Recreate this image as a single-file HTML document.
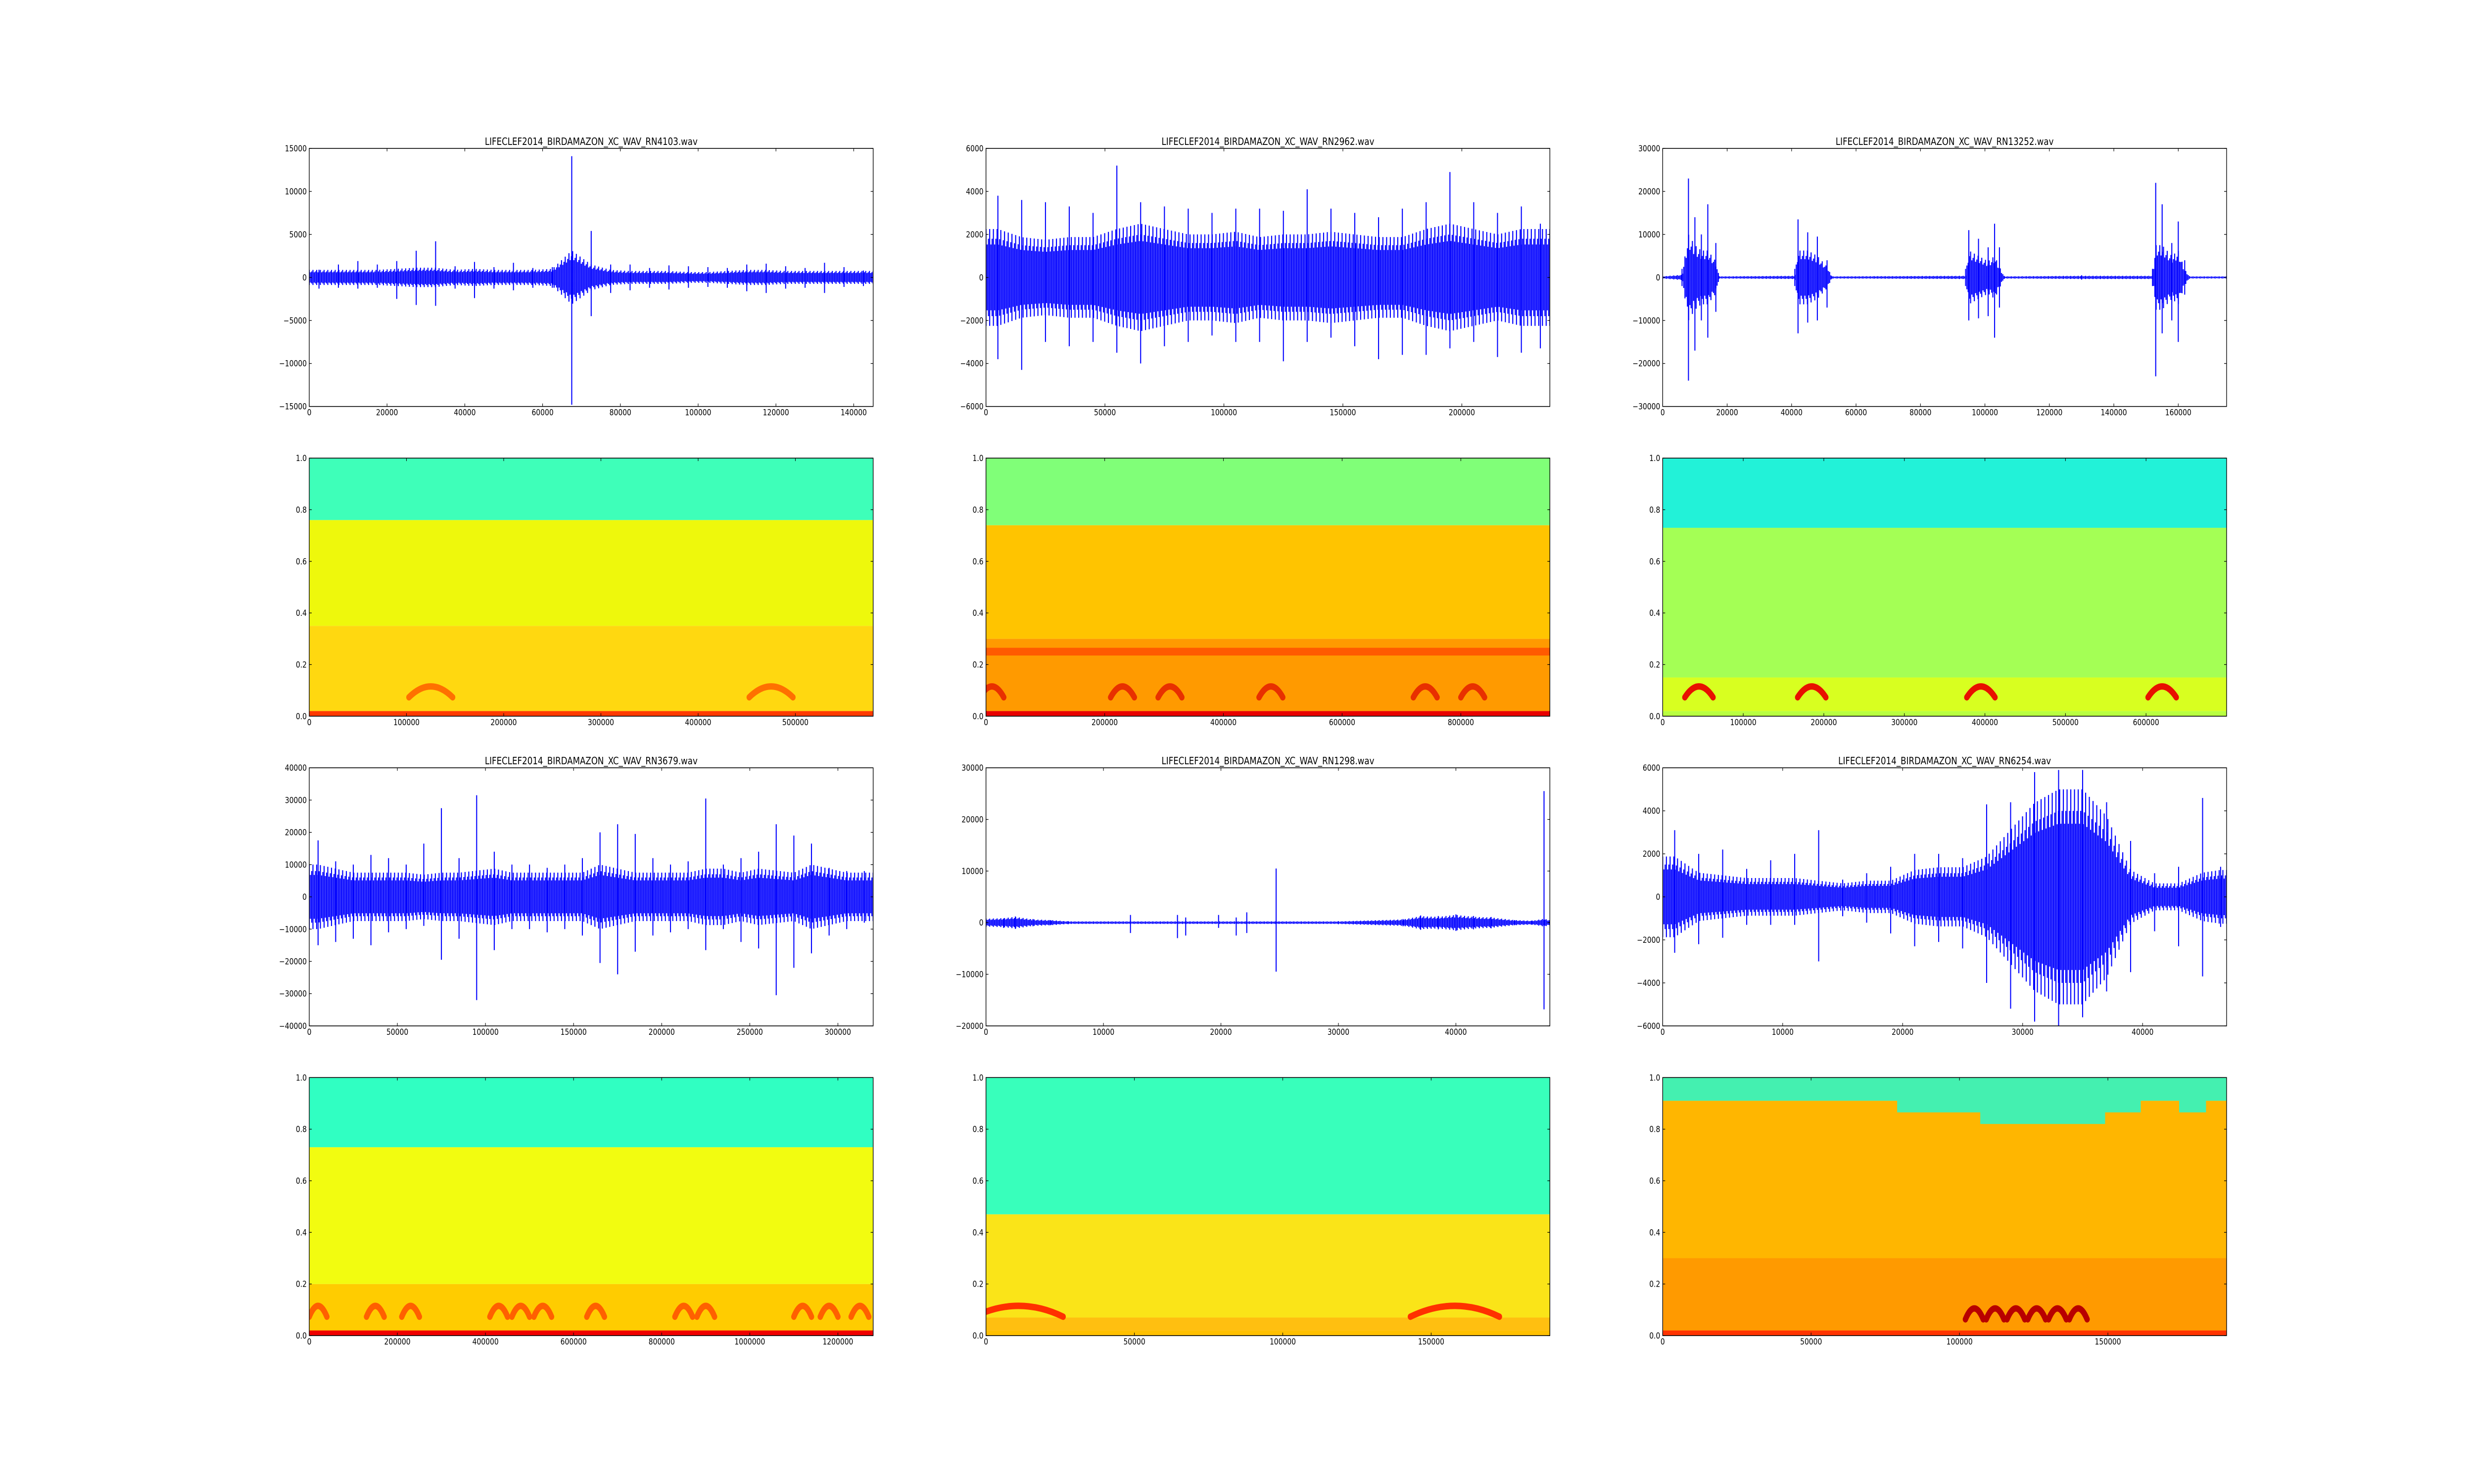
<!DOCTYPE html>
<html><head><meta charset="utf-8">
<style>
html,body{margin:0;padding:0;background:#fff;overflow:hidden;width:100%;height:100%;}
#fig{position:fixed;left:0;top:0;width:100vw;height:100vh;display:block;}
svg text{font-family:"DejaVu Sans","Liberation Sans",sans-serif;font-size:16.7px;fill:#000;}
svg text.title{font-size:20px;}
</style></head>
<body>
<svg id="fig" xmlns="http://www.w3.org/2000/svg" viewBox="0 0 6000 3000" preserveAspectRatio="none">
<rect width="6000" height="3000" fill="#fff"/>
</svg>
<script>
// ---------- Waveform data ----------
const w1Title = "LIFECLEF2014_BIRDAMAZON_XC_WAV_RN4103.wav";
const w1X = [2500,7500,12500,17500,22500,27500,32500,37500,42500,47500,52500,57500,62500,67500,72500,77500,82500,87500,92500,97500,102500,107500,112500,117500,122500,127500,132500,137500,142500];
const w1Hi = [900,1500,1900,1500,1900,3100,4200,1300,1800,1200,1700,1100,1200,14100,5400,1500,1500,1100,1400,1300,1200,1100,1500,1600,1300,1100,1700,1200,800];
const w1Lo = [-1300,-1200,-1300,-1200,-2500,-3200,-3300,-1300,-2400,-1300,-1500,-1200,-1200,-14800,-4500,-1800,-1500,-1200,-1400,-1200,-1100,-1200,-1600,-1800,-1300,-1200,-1800,-1100,-1000];
const w1Core = [700,700,700,700,800,900,900,700,800,700,700,700,800,2500,1200,700,600,600,600,500,500,600,700,700,600,600,600,600,600];
const w1XTicks = [0,20000,40000,60000,80000,100000,120000,140000];
const w1YTicks = [-15000,-10000,-5000,0,5000,10000,15000];

const w2Title = "LIFECLEF2014_BIRDAMAZON_XC_WAV_RN2962.wav";
const w2X = [5000,15000,25000,35000,45000,55000,65000,75000,85000,95000,105000,115000,125000,135000,145000,155000,165000,175000,185000,195000,205000,215000,225000,233000];
const w2Hi = [3800,3600,3500,3300,3000,5200,3500,3300,3200,3000,3200,3200,3100,4100,3200,3000,2800,3200,3500,4900,3500,3000,3300,2500];
const w2Lo = [-3800,-4300,-3000,-3200,-3000,-3500,-4000,-3200,-3000,-2700,-3000,-3000,-3900,-3000,-2800,-3200,-3800,-3600,-3600,-3300,-3000,-3700,-3500,-3300];
const w2Core = [1800,1500,1400,1500,1500,1800,2000,1800,1600,1600,1700,1500,1600,1600,1700,1600,1500,1500,1800,2000,1800,1600,1800,1800];
const w2XTicks = [0,50000,100000,150000,200000];
const w2YTicks = [-6000,-4000,-2000,0,2000,4000,6000];

const w3Title = "LIFECLEF2014_BIRDAMAZON_XC_WAV_RN13252.wav";
const w3X = [0,6000,8000,10000,12000,14000,16500,17500,41000,42000,45000,48000,51000,52500,94000,95000,98000,101000,103000,104500,106000,130000,152000,153000,155000,158000,160000,162000,163500,175000];
const w3Hi = [300,2000,23000,14000,10000,17000,8000,300,2000,13500,10500,9500,4000,300,2000,11000,9000,7000,12500,7000,300,500,2000,22000,17000,8000,13000,4000,300,300];
const w3Lo = [-300,-2000,-24000,-17000,-10000,-14000,-8000,-300,-2000,-13000,-10500,-10000,-7000,-300,-2000,-10000,-9500,-9000,-14000,-7000,-300,-500,-2000,-23000,-13000,-10000,-15000,-4000,-300,-300];
const w3Core = [200,500,8000,6000,5000,5000,3000,200,300,5000,5000,4000,2000,200,300,5000,4000,3000,4000,2000,200,300,300,6000,6000,4000,5000,1500,200,200];
const w3XTicks = [0,20000,40000,60000,80000,100000,120000,140000,160000];
const w3YTicks = [-30000,-20000,-10000,0,10000,20000,30000];

const w4Title = "LIFECLEF2014_BIRDAMAZON_XC_WAV_RN3679.wav";
const w4X = [5000,15000,25000,35000,45000,55000,65000,75000,85000,95000,105000,115000,125000,135000,145000,155000,165000,175000,185000,195000,205000,215000,225000,235000,245000,255000,265000,275000,285000,295000,305000,315000];
const w4Hi = [17500,11000,10000,13000,12000,10000,16500,27500,12000,31500,14000,10000,10000,9000,10000,12000,20000,22500,19500,12000,10000,11000,30500,10000,12000,14000,22500,19000,16500,9000,8000,8000];
const w4Lo = [-15000,-14000,-13000,-15000,-11000,-10000,-9000,-19500,-13000,-32000,-16500,-10000,-10000,-11000,-10000,-12000,-20500,-24000,-17000,-12000,-11000,-10000,-16500,-10000,-14000,-16000,-30500,-22000,-17500,-12000,-10000,-8000];
const w4Core = [8000,7000,6000,6000,6000,6000,5500,6000,6000,6500,7000,6000,6000,6000,6000,6000,8000,7000,6000,6000,6000,6000,7000,7000,6000,7000,6500,6000,8000,7000,6000,6000];
const w4XTicks = [0,50000,100000,150000,200000,250000,300000];
const w4YTicks = [-40000,-30000,-20000,-10000,0,10000,20000,30000,40000];

const w5Title = "LIFECLEF2014_BIRDAMAZON_XC_WAV_RN1298.wav";
const w5X = [0,1500,2500,4000,5500,7000,12300,16300,17000,19800,21300,22200,24700,30000,35500,37000,38500,40000,41500,43000,45000,46500,47500,48000];
const w5Hi = [800,800,1200,700,500,300,1500,1500,1000,1500,1000,2000,10500,300,700,1400,1300,1600,1300,1100,500,400,25500,500];
const w5Lo = [-800,-1000,-1200,-700,-500,-300,-2000,-3000,-2500,-1000,-2500,-2000,-9500,-300,-700,-1400,-1300,-1600,-1300,-1100,-500,-400,-16800,-500];
const w5Core = [600,700,900,500,400,200,200,200,200,200,200,200,200,200,500,1000,900,1200,900,800,400,300,600,400];
const w5XTicks = [0,10000,20000,30000,40000];
const w5YTicks = [-20000,-10000,0,10000,20000,30000];

const w6Title = "LIFECLEF2014_BIRDAMAZON_XC_WAV_RN6254.wav";
const w6X = [1000,3000,5000,7000,9000,11000,13000,15000,17000,19000,21000,23000,25000,27000,29000,31000,33000,35000,37000,39000,41000,43000,45000,46500];
const w6Hi = [3100,2000,2200,1300,1700,2000,3100,800,1100,1400,2000,2000,1800,4300,4400,5800,5900,5900,4400,2600,1100,1400,4600,1400];
const w6Lo = [-2600,-2200,-1900,-1300,-1300,-1300,-3000,-900,-1200,-1700,-2300,-2100,-2400,-4000,-5200,-5800,-6000,-5600,-4400,-3500,-1600,-2300,-3700,-1400];
const w6Core = [1500,900,800,700,700,700,600,500,600,600,1000,1100,1100,1500,2500,3500,4000,4000,3000,1000,500,500,900,1000];
const w6XTicks = [0,10000,20000,30000,40000];
const w6YTicks = [-6000,-4000,-2000,0,2000,4000,6000];

// ---------- Spectrogram data ----------
const specYTicks = [0,0.2,0.4,0.6,0.8,1.0];
const s1XTicks = [0,100000,200000,300000,400000,500000];
const s1Bands = [0.02,0.35,0.76];
const s1Arcs = [125000,475000];
const s2XTicks = [0,200000,400000,600000,800000];
const s2Bands = [0.02,0.30,0.74];
const s2Arcs = [10000,230000,310000,480000,740000,820000];
const s2Line = [0.25];
const s3XTicks = [0,100000,200000,300000,400000,500000,600000];
const s3Bands = [0.02,0.15,0.73];
const s3Arcs = [45000,185000,395000,620000];
const s4XTicks = [0,200000,400000,600000,800000,1000000,1200000];
const s4Bands = [0.02,0.20,0.73];
const s4Arcs = [20000,150000,230000,430000,480000,530000,650000,850000,900000,1120000,1180000,1250000];
const s5XTicks = [0,50000,100000,150000];
const s5Bands = [0.02,0.07,0.47];
const s5Arcs = [11000,158000];
const s6XTicks = [0,50000,100000,150000];
const s6Bands = [0.02,0.30,0.91];
const s6StepX = [0,79000,107000,149000,161000,174000,183000];
const s6StepY = [0.91,0.865,0.82,0.865,0.91,0.865,0.91];
const s6Arcs = [105000,112000,119000,126000,133000,140000];

const NS = "http://www.w3.org/2000/svg";
const fig = document.getElementById('fig');
const COLL = [750, 2391.2, 4032.4], COLW = 1367.6;
const ROWT = [300, 926.1, 1552.2, 2178.3], ROWH = 521.7;

function el(tag, attrs, parent){
  const e = document.createElementNS(NS, tag);
  for (const k in attrs) e.setAttribute(k, attrs[k]);
  (parent||fig).appendChild(e);
  return e;
}
function fmt(v){ return (Math.abs(v)<1e-9?0:v).toString().replace('-', '\u2212'); }
function fmtF(v){ return v.toFixed(1); }

function axes(name, x0, y0, w, h, xmax, ymin, ymax, xt, yt, yfmt){
  const g = el('g', {});
  
  
  const sx = v => x0 + v / xmax * w;
  const sy = v => y0 + h - (v - ymin) / (ymax - ymin) * h;
  return {g, sx, sy, x0, y0, w, h, xt, yt, yfmt, name};
}
function frame(a){
  const g = el('g', {}, a.g);
  
  
  el('rect', {x:a.x0, y:a.y0, width:a.w, height:a.h, fill:'none', stroke:'#000', 'stroke-width':1.6}, g);
  for (const t of a.xt){
    const x = a.sx(t);
    el('line', {x1:x, x2:x, y1:a.y0+a.h, y2:a.y0+a.h-6, stroke:'#000','stroke-width':1.3}, g);
    el('line', {x1:x, x2:x, y1:a.y0, y2:a.y0+6, stroke:'#000','stroke-width':1.3}, g);
    const t1 = el('text', {x:x, y:a.y0+a.h+18, 'text-anchor':'middle'}, g);
    
    
    t1.textContent = fmt(t);
  }
  for (const t of a.yt){
    const y = a.sy(t);
    el('line', {x1:a.x0, x2:a.x0+6, y1:y, y2:y, stroke:'#000','stroke-width':1.3}, g);
    el('line', {x1:a.x0+a.w, x2:a.x0+a.w-6, y1:y, y2:y, stroke:'#000','stroke-width':1.3}, g);
    const t1 = el('text', {x:a.x0-6, y:y+6, 'text-anchor':'end'}, g);
    
    
    t1.textContent = a.yfmt(t);
  }
}

function interp(X, V, x){
  if (x <= X[0]) return V[0];
  for (let i=1;i<X.length;i++) if (x <= X[i]) { const f=(x-X[i-1])/(X[i]-X[i-1]); return V[i-1]+(V[i]-V[i-1])*f; }
  return V[V.length-1];
}

function wave(col, row, title, xmax, yr, X, Hi, Lo, Core, xt, yt, name){
  const a = axes(name, COLL[col], ROWT[row], COLW, ROWH, xmax, yr[0], yr[1], xt, yt, fmt);
  const cid = 'clip-' + name;
  const cp = el('clipPath', {id:cid}, a.g);
  el('rect', {x:a.x0, y:a.y0, width:a.w, height:a.h}, cp);
  const g = el('g', {'clip-path':'url(#'+cid+')'}, a.g);
  // dense core rendered as fine vertical strokes
  let d = '';
  const n = Math.round(a.w / 3);
  for (let k=0;k<=n;k++){
    const px = a.x0 + k * a.w / n;
    const xv = (px - a.x0) / a.w * xmax;
    const c = interp(X, Core, xv) * (k%3===0 ? 1.25 : (k%3===1 ? 0.85 : 1.0));
    d += 'M' + px.toFixed(1) + ',' + a.sy(-c).toFixed(1) + 'V' + a.sy(c).toFixed(1);
  }
  const core = el('path', {d:d, fill:'none', stroke:'#0000ff', 'stroke-width':2.6}, g);
  
  
  // peak excursions
  let sd = '';
  X.forEach((x,i)=>{ sd += 'M' + a.sx(x).toFixed(1) + ',' + a.sy(Lo[i]).toFixed(1) + 'V' + a.sy(Hi[i]).toFixed(1); });
  const sp = el('path', {d:sd, fill:'none', stroke:'#0000ff', 'stroke-width':2.5}, g);
  
  
  frame(a);
  const tt = el('text', {x:a.x0+a.w/2, y:a.y0-7, 'text-anchor':'middle', 'class':'title'}, a.g);
  
  
  tt.textContent = title;
}

function spec(col, row, xmax, xt, bands, colors, arcs, arcY, arcW, arcColor, name, extra){
  const a = axes(name, COLL[col], ROWT[row], COLW, ROWH, xmax, 0, 1, xt, specYTicks, fmtF);
  const cid = 'clip-' + name;
  const cp = el('clipPath', {id:cid}, a.g);
  el('rect', {x:a.x0, y:a.y0, width:a.w, height:a.h}, cp);
  const g = el('g', {'clip-path':'url(#'+cid+')'}, a.g);
  const edges = [0].concat(bands).concat([1]);
  for (let i=0;i<edges.length-1;i++){
    const r = el('rect', {x:a.x0, y:a.sy(edges[i+1]), width:a.w, height:a.sy(edges[i])-a.sy(edges[i+1]), fill:colors[i]}, g);
    
    
  }
  if (extra) extra(a, g);
  for (const c of arcs){
    const cx = a.sx(c), cy = a.sy(arcY);
    const rw = arcW / xmax * a.w / 2;
    const p = el('path', {d:'M'+(cx-rw)+','+(cy+14)+' Q'+cx+','+(cy-30)+' '+(cx+rw)+','+(cy+14), fill:'none', stroke:arcColor, 'stroke-width':13, 'stroke-linecap':'round'}, g);
    
    
  }
  frame(a);
}

wave(0,0,w1Title,145000,[-15000,15000],w1X,w1Hi,w1Lo,w1Core,w1XTicks,w1YTicks,'waveform-rn4103');
wave(1,0,w2Title,237000,[-6000,6000],w2X,w2Hi,w2Lo,w2Core,w2XTicks,w2YTicks,'waveform-rn2962');
wave(2,0,w3Title,175000,[-30000,30000],w3X,w3Hi,w3Lo,w3Core,w3XTicks,w3YTicks,'waveform-rn13252');
wave(0,2,w4Title,320000,[-40000,40000],w4X,w4Hi,w4Lo,w4Core,w4XTicks,w4YTicks,'waveform-rn3679');
wave(1,2,w5Title,48000,[-20000,30000],w5X,w5Hi,w5Lo,w5Core,w5XTicks,w5YTicks,'waveform-rn1298');
wave(2,2,w6Title,47000,[-6000,6000],w6X,w6Hi,w6Lo,w6Core,w6XTicks,w6YTicks,'waveform-rn6254');

spec(0,1,580000,s1XTicks,s1Bands,['#ff3a00','#ffd810','#eef80c','#3effb9'],s1Arcs,0.1,45000,'#ff7000','spectrogram-rn4103');
spec(1,1,950000,s2XTicks,s2Bands,['#e80000','#ff9a00','#ffc400','#80ff78'],s2Arcs,0.1,40000,'#e83000','spectrogram-rn2962',
  (a,g)=>{ for (const f of s2Line){ const r=el('rect',{x:a.x0,y:a.sy(f+0.015),width:a.w,height:a.sy(f-0.015)-a.sy(f+0.015),fill:'#ff5a00'},g);
      } });
spec(2,1,700000,s3XTicks,s3Bands,['#b8ff40','#d8ff20','#a4ff55','#22f2d8'],s3Arcs,0.1,35000,'#e81000','spectrogram-rn13252');
spec(0,3,1280000,s4XTicks,s4Bands,['#f00000','#ffcc00','#f2fc10','#30ffc2'],s4Arcs,0.1,40000,'#ff6000','spectrogram-rn3679');
spec(1,3,190000,s5XTicks,s5Bands,['#ffc000','#ffbf10','#fae418','#38ffbb'],s5Arcs,0.1,30000,'#ff3000','spectrogram-rn1298');
spec(2,3,190000,s6XTicks,s6Bands,['#ff3400','#ff9a00','#ffb600','#ffb600'],s6Arcs,0.09,6000,'#b80000','spectrogram-rn6254',
  (a,g)=>{ for (let i=0;i<s6StepX.length;i++){ const x1=a.sx(s6StepX[i]); const x2=a.sx(i+1<s6StepX.length?s6StepX[i+1]:190000);
    const r=el('rect',{x:x1,y:a.y0,width:x2-x1+0.5,height:a.sy(s6StepY[i])-a.y0,fill:'#44f0b0'},g);
      } });
</script>
</body></html>
